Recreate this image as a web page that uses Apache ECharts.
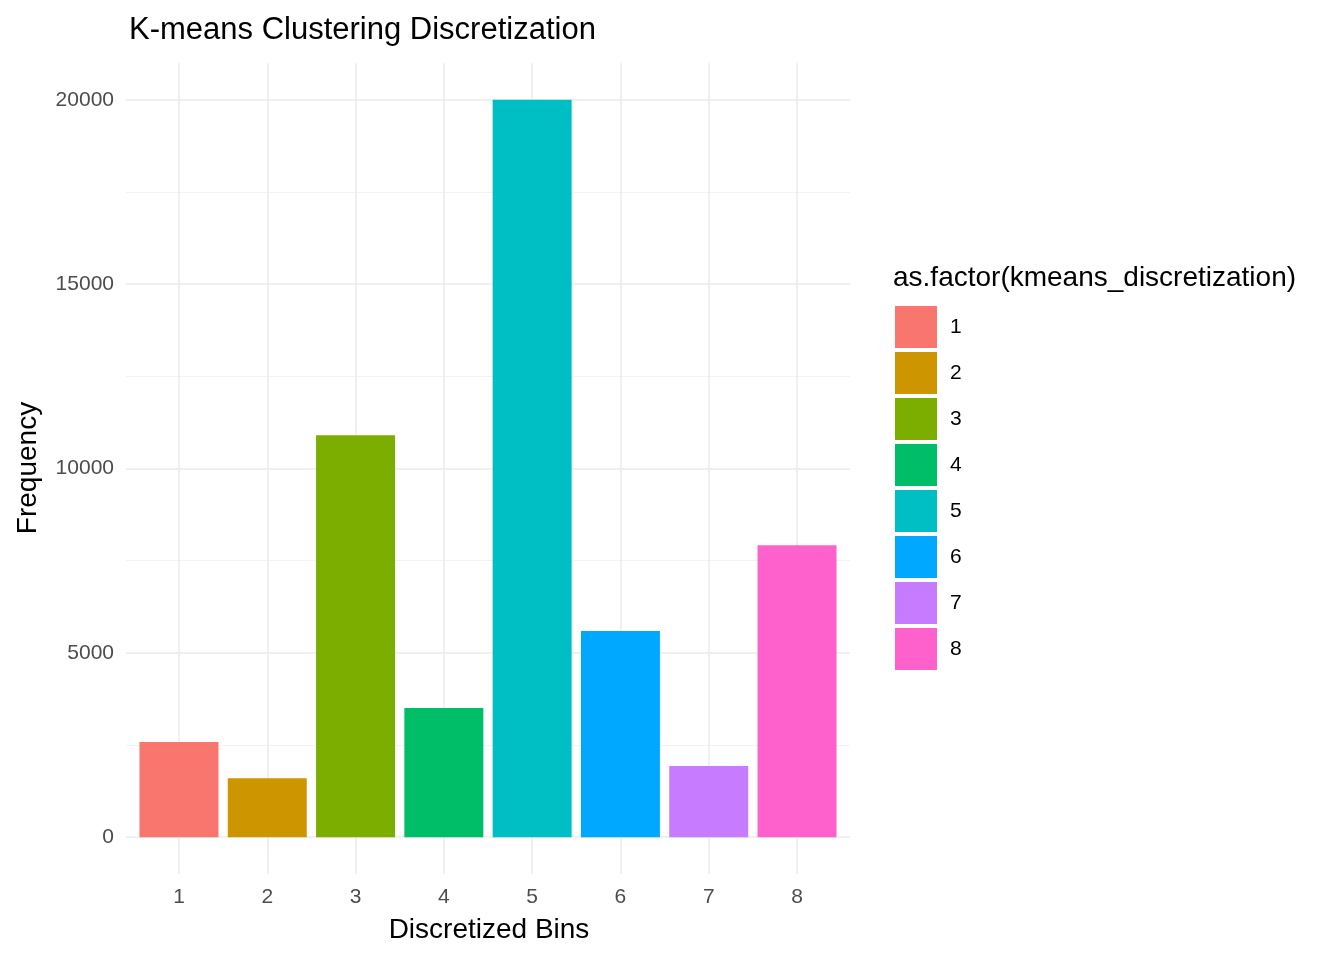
<!DOCTYPE html>
<html>
<head>
<meta charset="utf-8">
<script src="https://cdn.jsdelivr.net/npm/echarts@6/dist/echarts.min.js"></script>
<style>html,body{margin:0;padding:0;background:#fff}#demo{width:1344px;height:960px}</style>
</head>
<body>
<div id="demo"></div>
<script>
// 数据
var bins = ['1', '2', '3', '4', '5', '6', '7', '8'];
var counts = [2580, 1600, 10900, 3500, 20000, 5590, 1930, 7920];
var colors = ['#F8766D', '#CD9600', '#7CAE00', '#00BE67', '#00BFC4', '#00A9FF', '#C77CFF', '#FF61CC'];
var yTicks = [0, 5000, 10000, 15000, 20000];
var yMinor = [2500, 7500, 12500, 17500];

var myChart = echarts.init(document.getElementById('demo'));
var font = 'Liberation Sans, Arial, sans-serif';

var lines = [];
yMinor.forEach(function (v) { lines.push({ yAxis: v, lineStyle: { color: '#f3f3f3', width: 1, type: 'solid' } }); });
yTicks.forEach(function (v) { lines.push({ yAxis: v, lineStyle: { color: '#ebebeb', width: 1.5, type: 'solid' } }); });
bins.forEach(function (b, i) { lines.push({ xAxis: i + 1, lineStyle: { color: '#ebebeb', width: 1.5, type: 'solid' } }); });

var series = bins.map(function (b, i) {
    var s = {
        name: b,
        type: 'bar',
        stack: 'all',
        barWidth: 79,
        itemStyle: { color: colors[i] },
        data: [[i + 1, counts[i]]],
        z: 3
    };
    if (i === 0) {
        s.markLine = { silent: true, symbol: 'none', label: { show: false }, data: lines, z: 1 };
    }
    return s;
});

var option = {
    animation: false,
    textStyle: { fontFamily: font },
    title: {
        text: 'K-means Clustering Discretization',
        left: 124, top: 10,
        textStyle: { fontSize: 31, fontWeight: 'normal', color: '#000', fontFamily: font }
    },
    legend: {
        orient: 'vertical',
        left: 890, top: 301,
        itemWidth: 42, itemHeight: 42, itemGap: 4,
        icon: 'rect',
        data: bins,
        textStyle: { fontSize: 21, color: '#000', padding: [0, 0, 0, 8] }
    },
    graphic: [
        { type: 'text', x: 893, y: 278, style: { text: 'as.factor(kmeans_discretization)', fontSize: 28, fill: '#000', fontFamily: font, verticalAlign: 'middle' } },
        { type: 'text', x: 489, y: 930, style: { text: 'Discretized Bins', fontSize: 28, fill: '#000', fontFamily: font, align: 'center', verticalAlign: 'middle' } },
        { type: 'text', x: 28, y: 468, rotation: Math.PI / 2, style: { text: 'Frequency', fontSize: 28, fill: '#000', fontFamily: font, align: 'center', verticalAlign: 'middle' } }
    ],
    grid: { left: 126, right: 494, top: 63, bottom: 86 },
    xAxis: {
        type: 'value', min: 0.4, max: 8.6,
        axisLine: { show: false }, axisTick: { show: false }, splitLine: { show: false },
        axisLabel: { customValues: [1, 2, 3, 4, 5, 6, 7, 8], fontSize: 21, color: '#4d4d4d', margin: 13 }
    },
    yAxis: {
        type: 'value', min: -1000, max: 21000,
        axisLine: { show: false }, axisTick: { show: false }, splitLine: { show: false },
        axisLabel: { customValues: yTicks, fontSize: 21, color: '#4d4d4d', margin: 12, formatter: function (v) { return String(v); } }
    },
    series: series
};

myChart.setOption(option);
</script>
</body>
</html>
